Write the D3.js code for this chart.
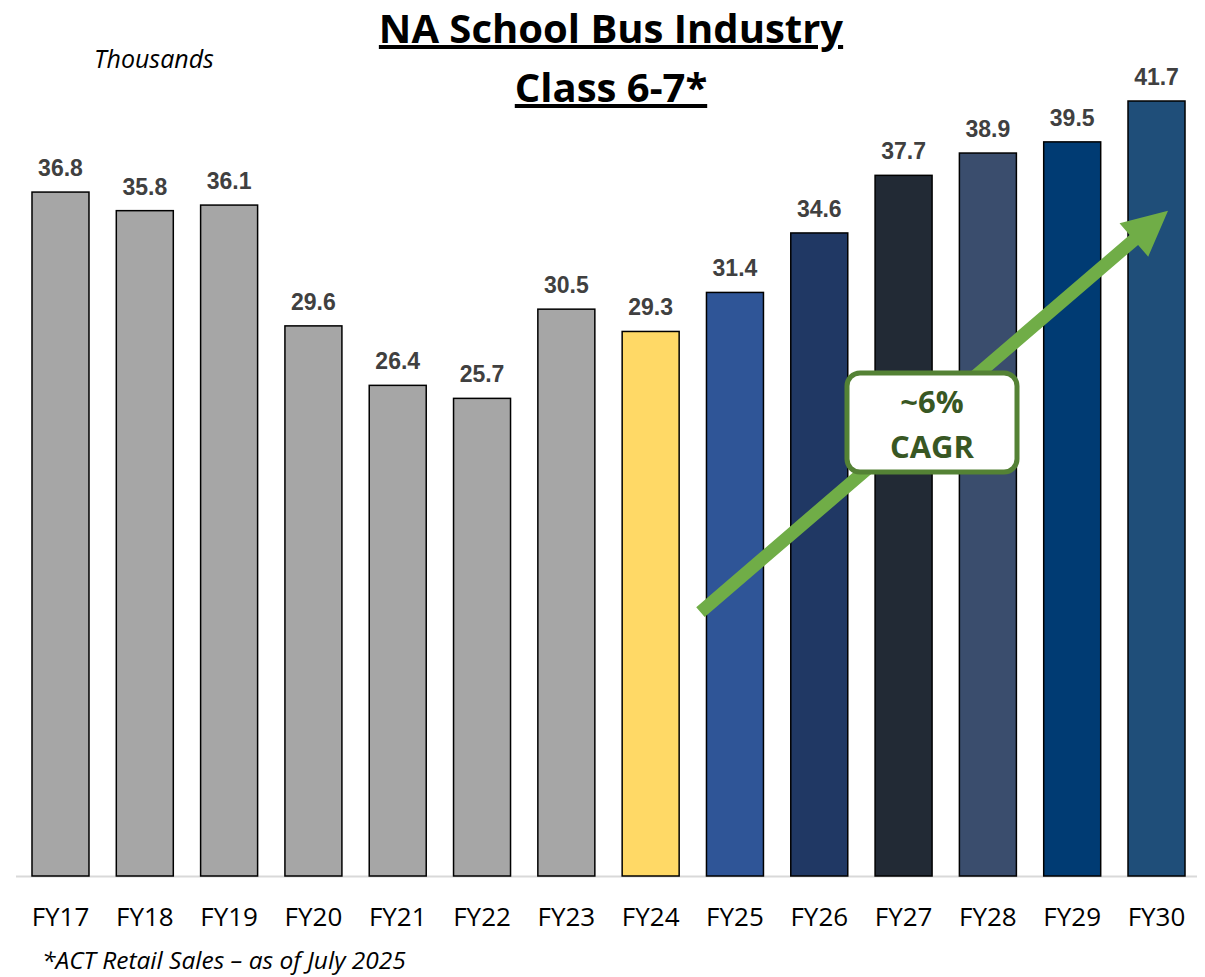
<!DOCTYPE html>
<html>
<head>
<meta charset="utf-8">
<script src="https://cdn.jsdelivr.net/npm/d3@7"></script>
<style>
  body { margin: 0; background: #fff; }
  svg { display: block; }
</style>
</head>
<body>
<div id="chart"></div>
<script>
// values in thousands
const years = ["FY17", "FY18", "FY19", "FY20", "FY21", "FY22", "FY23",
               "FY24", "FY25", "FY26", "FY27", "FY28", "FY29", "FY30"];
const sales = [36.8, 35.8, 36.1, 29.6, 26.4, 25.7, 30.5,
               29.3, 31.4, 34.6, 37.7, 38.9, 39.5, 41.7];
const barColors = ["#a6a6a6", "#a6a6a6", "#a6a6a6", "#a6a6a6", "#a6a6a6", "#a6a6a6", "#a6a6a6",
                   "#ffd966", "#2f5597", "#203864", "#222a35", "#3a4d6d", "#003b73", "#1f4e79"];
const titleLines = ["NA School Bus Industry", "Class 6-7*"];
const unitLabel = "Thousands";
const footnote = "*ACT Retail Sales \u2013 as of July 2025";
const cagrLines = ["~6%", "CAGR"];

const width = 1205, height = 977;
const baseY = 876;

const svg = d3.select("#chart").append("svg")
    .attr("width", width)
    .attr("height", height);

let x = d3.scaleBand()
    .domain(years)
    .range([18, 1199])
    .paddingInner(0.324)
    .paddingOuter(0.166);

let y = d3.scaleLinear()
    .domain([0, 45])
    .range([baseY, baseY - 45 * 18.585]);

let data = years.map((d, i) => ({ year: d, value: sales[i], color: barColors[i] }));

// baseline
svg.append("line")
    .attr("x1", 16).attr("x2", 1197)
    .attr("y1", baseY + 0.5).attr("y2", baseY + 0.5)
    .attr("stroke", "#d9d9d9")
    .attr("stroke-width", 2);

svg.selectAll("rect.bar")
    .data(data)
    .enter()
    .append("rect")
    .attr("class", "bar")
    .attr("x", d => x(d.year))
    .attr("y", d => y(d.value))
    .attr("width", x.bandwidth())
    .attr("height", d => y(0) - y(d.value))
    .attr("fill", d => d.color)
    .attr("stroke", "#000")
    .attr("stroke-width", 1.5);

svg.selectAll("text.val")
    .data(data)
    .enter()
    .append("text")
    .attr("class", "val")
    .attr("x", d => x(d.year) + x.bandwidth() / 2)
    .attr("y", d => y(d.value) - 16)
    .attr("text-anchor", "middle")
    .attr("font-family", "Liberation Sans, Arial, sans-serif")
    .attr("font-weight", "bold")
    .attr("font-size", 23)
    .attr("fill", "#404040")
    .text(d => d.value.toFixed(1));

// category labels
let xAxis = svg.append("g")
    .attr("transform", `translate(0,${baseY})`)
    .call(d3.axisBottom(x).tickSize(0).tickPadding(32));
xAxis.select(".domain").remove();
xAxis.selectAll("text")
    .attr("font-family", "Open Sans, sans-serif")
    .attr("font-size", 26)
    .attr("fill", "#000");

// titles
titleLines.forEach((t, i) => {
    svg.append("text")
        .attr("x", 611)
        .attr("y", 43 + i * 59)
        .attr("text-anchor", "middle")
        .attr("font-family", "Open Sans, sans-serif")
        .attr("font-weight", "bold")
        .attr("font-size", 40)
        .attr("text-decoration", "underline")
        .attr("fill", "#000")
        .text(t);
});

svg.append("text")
    .attr("x", 94)
    .attr("y", 68)
    .attr("font-family", "Open Sans, sans-serif")
    .attr("font-style", "italic")
    .attr("font-size", 25)
    .attr("fill", "#000")
    .text(unitLabel);

svg.append("text")
    .attr("x", 42)
    .attr("y", 969)
    .attr("font-family", "Open Sans, sans-serif")
    .attr("font-style", "italic")
    .attr("font-size", 24.5)
    .attr("fill", "#000")
    .text(footnote);

// growth arrow, anchored to the bar scales
let x0 = x("FY25") - 6, y0 = y(14.2);
let x1 = x("FY30") + 40, y1 = y(35.8);
let ang = Math.atan2(y1 - y0, x1 - x0);
let len = Math.hypot(x1 - x0, y1 - y0);
let sw = 6.5, headLen = 45, headW = 22;
let arrowPts = [[0, -sw], [len - headLen, -sw], [len - headLen, -headW], [len, 0],
                [len - headLen, headW], [len - headLen, sw], [0, sw]];
svg.append("path")
    .attr("d", d3.line()(arrowPts) + "Z")
    .attr("transform", `translate(${x0},${y0}) rotate(${ang * 180 / Math.PI})`)
    .attr("fill", "#70ad47");

// CAGR callout
let box = svg.append("g").attr("transform", "translate(932,422)");
box.append("rect")
    .attr("x", -85).attr("y", -49)
    .attr("width", 170).attr("height", 99)
    .attr("rx", 13)
    .attr("fill", "#fff")
    .attr("stroke", "#548235")
    .attr("stroke-width", 5);
cagrLines.forEach((t, i) => {
    box.append("text")
        .attr("x", 0)
        .attr("y", -9 + i * 45)
        .attr("text-anchor", "middle")
        .attr("font-family", "Open Sans, sans-serif")
        .attr("font-weight", "bold")
        .attr("font-size", 31)
        .attr("fill", "#385723")
        .text(t);
});
</script>
</body>
</html>
